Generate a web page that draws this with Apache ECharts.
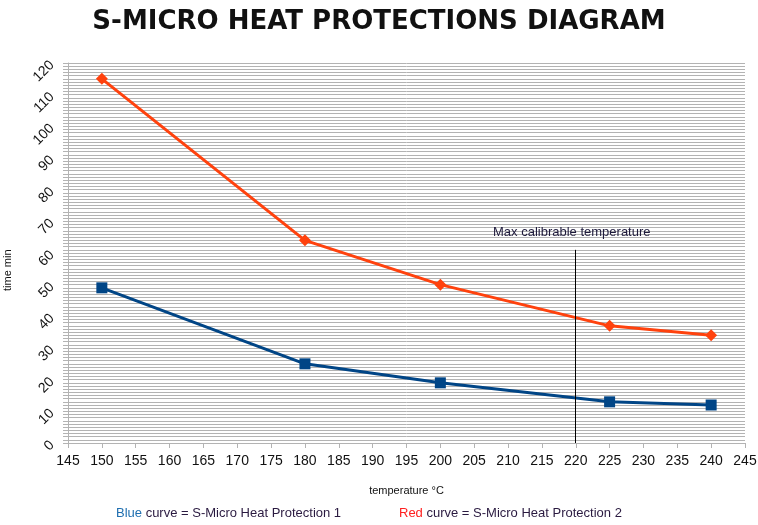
<!DOCTYPE html>
<html>
<head>
<meta charset="utf-8">
<script src="https://cdn.jsdelivr.net/npm/echarts@6/dist/echarts.min.js"></script>
<style>
  html, body { margin: 0; padding: 0; background: #fff; }
  #chart { width: 758px; height: 525px; }
</style>
</head>
<body>
<div id="chart"></div>
<script>
// temperatures (°C) and times (min)
var temps = [150, 180, 200, 225, 240];
var protection1 = [49, 25, 19, 13, 12];   // blue curve
var protection2 = [115, 64, 50, 37, 34];  // red curve
var maxCalTemp = 220;

function pairs(xs, ys) {
  return xs.map(function (x, i) { return [x, ys[i]]; });
}

var chart = echarts.init(document.getElementById('chart'));
var option = {
  backgroundColor: '#ffffff',
  animation: false,
  title: {
    text: 'S-MICRO HEAT PROTECTIONS DIAGRAM',
    left: 'center',
    top: 4,
    textStyle: { fontFamily: 'DejaVu Sans', fontWeight: 'bold', fontSize: 26, color: '#111' }
  },
  grid: { left: 68, right: 13, top: 63, bottom: 82, outerBoundsMode: 'none' },
  xAxis: {
    type: 'value',
    min: 145, max: 245, interval: 5,
    name: 'temperature °C',
    nameLocation: 'middle',
    nameGap: 42,
    nameTextStyle: { fontFamily: 'Liberation Sans', fontSize: 11, color: '#111' },
    axisLine: { show: true, lineStyle: { color: '#b3b3b3' } },
    axisTick: { show: true, inside: false, length: 5, lineStyle: { color: '#b3b3b3' } },
    axisLabel: { fontFamily: 'Liberation Sans', fontSize: 14, color: '#111', margin: 11 },
    splitLine: { show: false }
  },
  yAxis: {
    type: 'value',
    min: 0, max: 120, interval: 10,
    axisLine: { show: true, lineStyle: { color: '#b3b3b3' } },
    axisTick: { show: true, length: 5, lineStyle: { color: '#b3b3b3' } },
    minorTick: { show: true, splitNumber: 10, length: 5, lineStyle: { color: '#b3b3b3' } },
    axisLabel: { fontFamily: 'Liberation Sans', fontSize: 14, color: '#111', rotate: 45, margin: 16 },
    splitLine: { show: true, lineStyle: { color: '#b3b3b3', width: 1 } },
    minorSplitLine: { show: true, lineStyle: { color: '#b3b3b3', width: 1 } }
  },
  series: [
    {
      name: 'S-Micro Heat Protection 1',
      type: 'line',
      data: pairs(temps, protection1),
      symbol: 'rect',
      symbolSize: 11,
      lineStyle: { color: '#004586', width: 3 },
      itemStyle: { color: '#004586' },
      z: 3
    },
    {
      name: 'S-Micro Heat Protection 2',
      type: 'line',
      data: pairs(temps, protection2),
      symbol: 'diamond',
      symbolSize: 12,
      lineStyle: { color: '#ff420e', width: 3 },
      itemStyle: { color: '#ff420e' },
      z: 3,
      markLine: {
        silent: true,
        symbol: 'none',
        label: { show: false },
        lineStyle: { color: '#000', width: 1, type: 'solid' },
        data: [[{ coord: [maxCalTemp, 61] }, { coord: [maxCalTemp, 0] }]]
      }
    }
  ],
  graphic: [
    {
      type: 'text', x: 2, y: 291, rotation: Math.PI / 2, z: 100,
      style: { text: 'time min', font: '11px "Liberation Sans"', fill: '#111' }
    },
    {
      type: 'text', left: 493, top: 226, z: 100,
      style: { text: 'Max calibrable temperature', font: '13px "Liberation Sans"', fill: '#1e1a3c' }
    },
    {
      type: 'text', left: 116, top: 507, z: 100,
      style: {
        text: '{b|Blue} curve = S-Micro Heat Protection 1',
        font: '13px "Liberation Sans"', fill: '#2a1a40',
        rich: { b: { fill: '#1f6fb0', font: '13px "Liberation Sans"' } }
      }
    },
    {
      type: 'text', left: 399, top: 507, z: 100,
      style: {
        text: '{r|Red} curve = S-Micro Heat Protection 2',
        font: '13px "Liberation Sans"', fill: '#2a1a40',
        rich: { r: { fill: '#ff2020', font: '13px "Liberation Sans"' } }
      }
    }
  ]
};
chart.setOption(option);
</script>
</body>
</html>
